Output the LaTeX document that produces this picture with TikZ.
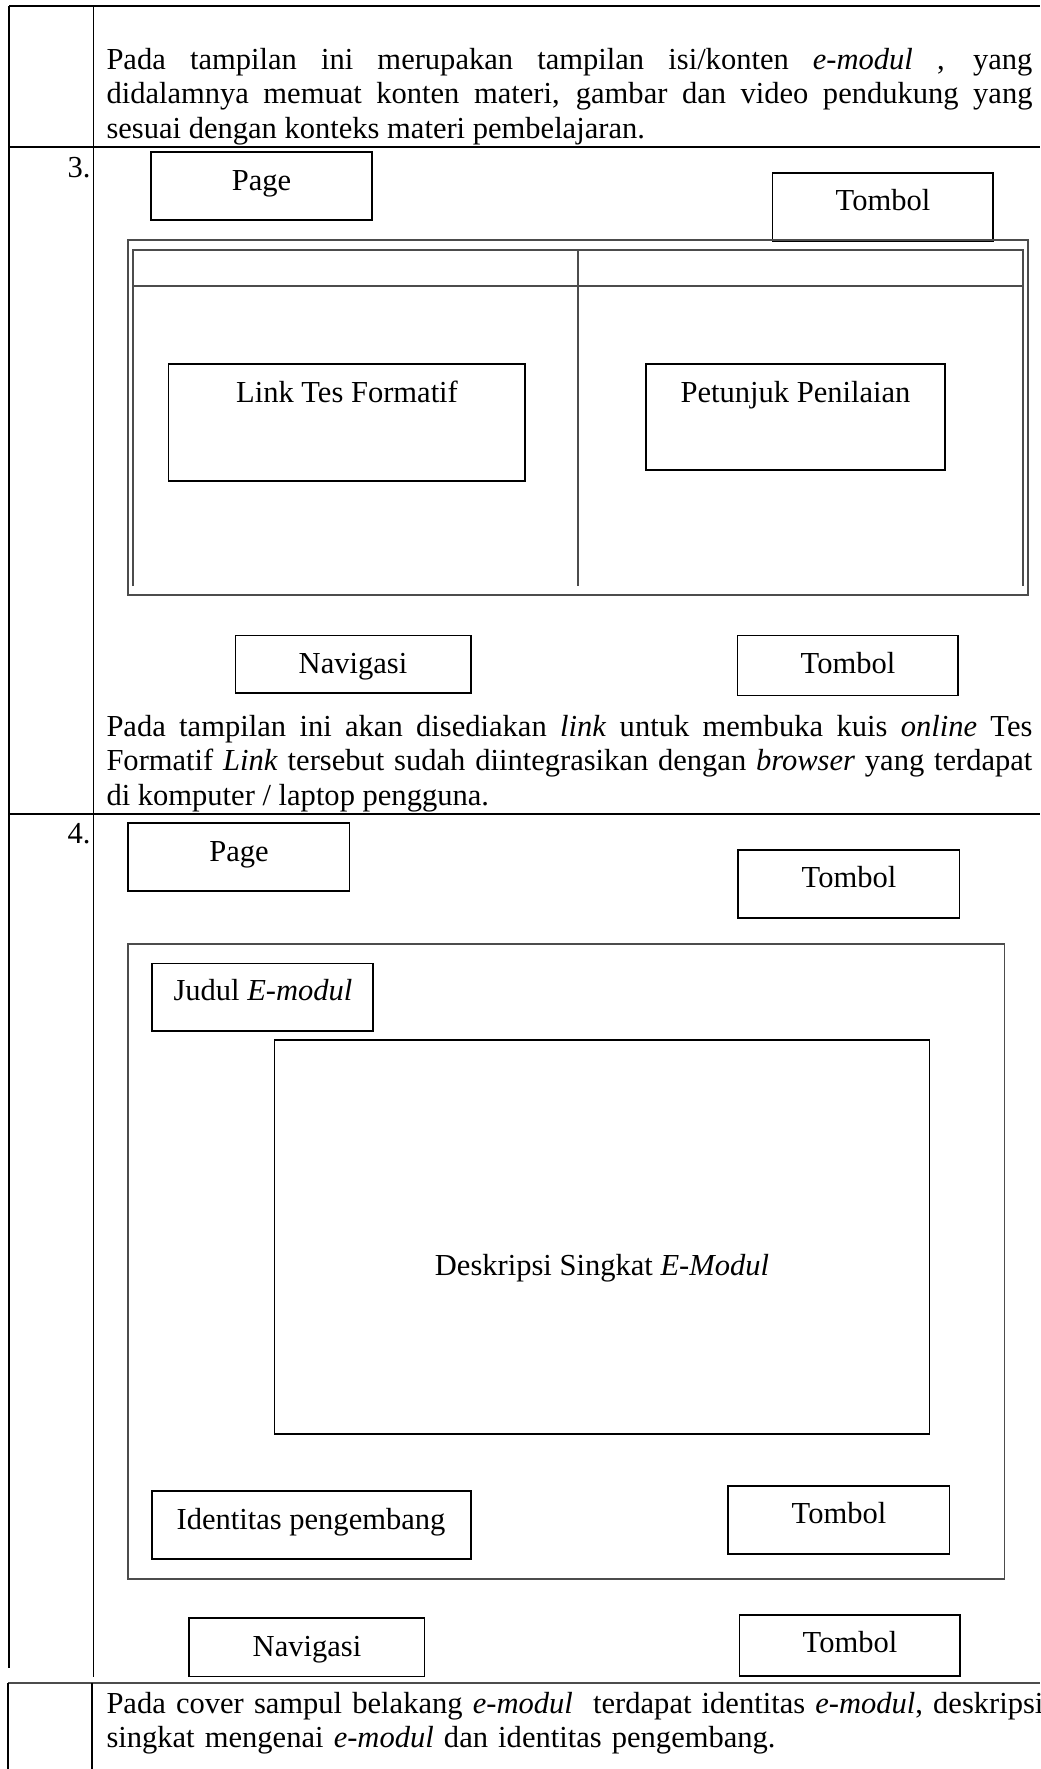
\documentclass[tikz,border=0pt]{standalone}
\usepackage{fontspec}
\setmainfont{Liberation Serif}

\tikzset{
  rule/.style={black, line width=0.6pt},
  frame/.style={black!70, line width=0.6pt},
  box/.style={black, line width=0.6pt},
  lbl/.style={anchor=base, inner sep=0pt, font=\fontsize{12}{13.6}\selectfont},
  num/.style={anchor=base east, inner sep=0pt, font=\fontsize{12}{13.6}\selectfont},
  para/.style={anchor=base west, inner sep=0pt, text width=363.9pt, align=justify, font=\fontsize{12}{13.6}\selectfont},
}

\begin{document}
\begin{tikzpicture}[x=0.393pt, y=-0.393pt]
    \useasboundingbox (0, 0) rectangle (1040, 1769);

        % table
        \foreach \y in {6, 147, 814} {
            \draw[rule] (9, \y) -- (1040, \y);
        }
        \draw[rule, black!70, line width=0.9pt] (8, 1683) -- (1040, 1683);
        \draw[rule] (9, 6) -- (9, 1668);
        \draw[rule] (93.5, 6) -- (93.5, 1677);
        \draw[rule] (8, 1683) -- (8, 1769);
        \draw[rule] (92, 1683) -- (92, 1769);

        \node[para] (desc2) at (106, 69) {Pada tampilan ini merupakan tampilan isi/konten \textit{e-modul} , yang\linebreak didalamnya memuat konten materi, gambar dan video pendukung yang\linebreak sesuai dengan konteks materi pembelajaran.};

        % row 3
        \node[num] (num3) at (91, 177) {3.};
        \draw[box] (151, 152) rectangle (372, 220);
        \node[lbl] (page3) at (261.5, 190) {Page};
        \draw[box] (772.5, 173) rectangle (993, 241);
        \node[lbl] (btn3a) at (883, 210) {Tombol};

        \draw[frame] (128, 240) rectangle (1028, 595);
        \draw[frame] (133, 586) -- (133, 250) -- (1023, 250) -- (1023, 586);
        \draw[frame] (133, 286) -- (1023, 286);
        \draw[frame] (578, 250) -- (578, 586);

        \draw[box] (168.5, 364) rectangle (525, 481);
        \node[lbl] (link3) at (347, 402.5) {Link Tes Formatif};
        \draw[box] (646, 364) rectangle (945, 470);
        \node[lbl] (nilai3) at (795.5, 402.5) {Petunjuk Penilaian};

        \draw[box] (235.5, 635.5) rectangle (471, 693);
        \node[lbl] (nav3) at (353, 673) {Navigasi};
        \draw[box] (737.5, 635.5) rectangle (958, 695.5);
        \node[lbl] (btn3b) at (848, 673) {Tombol};

        \node[para] (desc3) at (106, 736) {Pada tampilan ini akan disediakan \textit{link} untuk membuka kuis \textit{online} Tes\linebreak Formatif \textit{Link} tersebut sudah diintegrasikan dengan \textit{browser} yang terdapat\linebreak di komputer / laptop pengguna.};

        % row 4
        \node[num] (num4) at (91, 843) {4.};
        \draw[box] (128, 823) rectangle (349.5, 891);
        \node[lbl] (page4) at (239, 861) {Page};
        \draw[box] (738, 850) rectangle (959.5, 918);
        \node[lbl] (btn4a) at (849, 887.5) {Tombol};

        \draw[frame] (128, 944) rectangle (1004.5, 1579);
        \draw[box] (152, 963.5) rectangle (373, 1031);
        \node[lbl] (judul4) at (263, 1000) {Judul \textit{E-modul}};
        \draw[box] (274.5, 1040) rectangle (929.5, 1434);
        \node[lbl] (deskripsi4) at (602, 1275) {Deskripsi Singkat \textit{E-Modul}};
        \draw[box] (152, 1491) rectangle (471, 1559);
        \node[lbl] (dev4) at (311, 1529) {Identitas pengembang};
        \draw[box] (728, 1486) rectangle (949.5, 1554);
        \node[lbl] (btn4b) at (839, 1523) {Tombol};

        \draw[box] (189, 1618) rectangle (424.5, 1676.5);
        \node[lbl] (nav4) at (307, 1656.5) {Navigasi};
        \draw[box] (739.5, 1615) rectangle (960, 1676);
        \node[lbl] (btn4c) at (850, 1652.5) {Tombol};

        \node[para, text width=380pt, align=left] (desc4) at (106, 1713) {Pada cover sampul belakang \textit{e-modul}~ terdapat identitas \textit{e-modul}, deskripsi\\ singkat mengenai \textit{e-modul} dan identitas pengembang.};
    \end{tikzpicture}
\end{document}
